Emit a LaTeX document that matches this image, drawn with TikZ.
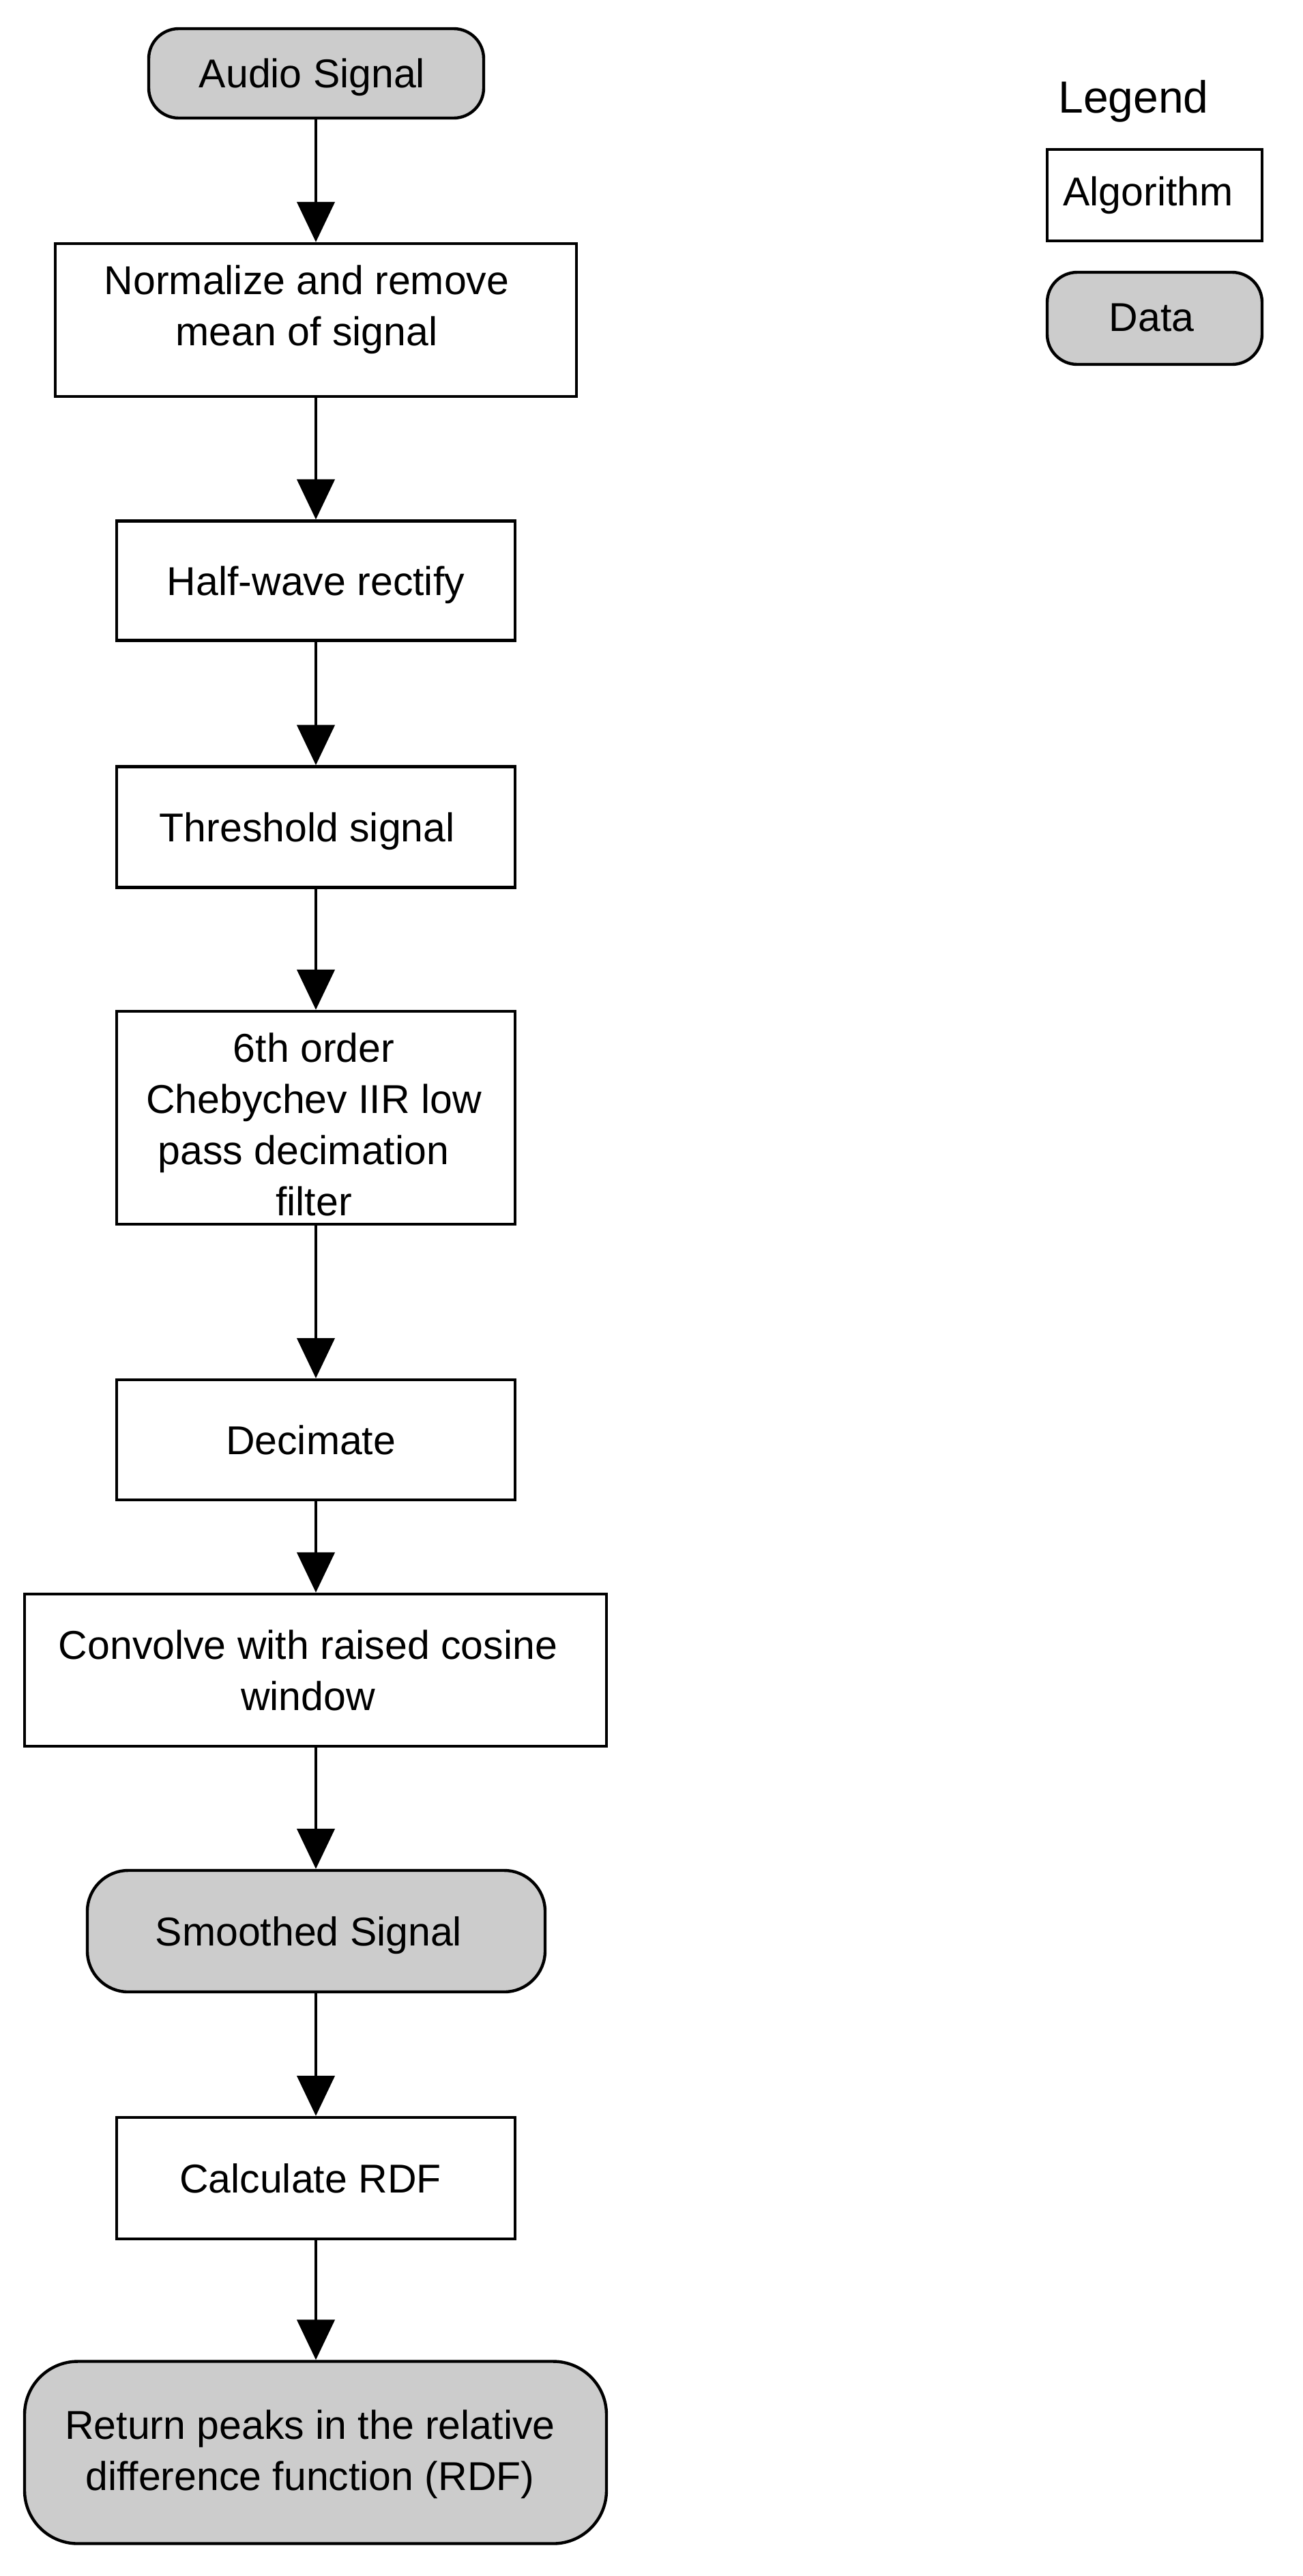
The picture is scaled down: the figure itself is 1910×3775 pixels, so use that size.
\documentclass[tikz,border=0pt]{standalone}
\usepackage{fontspec}
\setmainfont{Liberation Sans}
\usetikzlibrary{arrows.meta}
\definecolor{datagray}{HTML}{CCCCCC}
% #1 leftward shift, #2 upward shift, #3 lines
\newcommand\tx[3]{\raisebox{#2}[\height][\depth]{\kern-#1\kern-#1\begin{tabular}{@{}c@{}}#3\end{tabular}}}
\begin{document}
\begin{tikzpicture}[x=0.5pt,y=-0.5pt,
  algo/.style={draw, line width=2.2pt, fill=white, inner sep=0pt, font=\fontsize{29.5pt}{37.5pt}\selectfont},
  data/.style={algo, fill=datagray},
  sz/.style 2 args={minimum width=#1*0.5pt, minimum height=#2*0.5pt},
  flow/.style={line width=2.4pt, -{Triangle[length=29.5pt,width=27.5pt]}}]
\fill[white] (0,0) rectangle (1910,3775);
\useasboundingbox (0,0) rectangle (1910,3775);

\node[data, sz={491}{131}, rounded corners=22pt] (audio) at (463.5,107.5) {\tx{3pt}{-3pt}{Audio Signal}};
\node[algo, sz={764}{224}] (norm) at (463,469) {\tx{6.7pt}{7.5pt}{Normalize and remove\\mean of signal}};
\node[algo, sz={584}{175}] (half) at (463,851) {\tx{0pt}{-3pt}{Half-wave rectify}};
\node[algo, sz={584}{177}] (thr) at (463,1212) {\tx{6.4pt}{-3pt}{Threshold signal}};
\node[algo, sz={584}{312}] (cheb) at (463,1638) {\tx{1.5pt}{-8pt}{6th order\\Chebychev IIR low\\pass decimation\hspace*{15pt}\\filter}};
\node[algo, sz={584}{176}] (dec) at (463,2110) {\tx{3.7pt}{-3pt}{Decimate}};
\node[algo, sz={853}{223}] (conv) at (462.5,2447.5) {\tx{5.5pt}{-3pt}{Convolve with raised cosine\\window}};
\node[data, sz={671}{178}, rounded corners=30pt] (smooth) at (463.5,2830) {\tx{5.5pt}{-3pt}{Smoothed Signal}};
\node[algo, sz={584}{178}] (calc) at (463,3192) {\tx{4pt}{-3pt}{Calculate RDF}};
\node[data, sz={853}{267}, rounded corners=39pt] (ret) at (462.5,3594) {\tx{4pt}{-1.5pt}{Return peaks in the relative\\difference function (RDF)}};

\node[anchor=base west, inner sep=0pt, font=\fontsize{33pt}{40pt}\selectfont] (legend) at (1551,165) {Legend};
\node[algo, sz={315}{134}] (legalgo) at (1692.5,286) {\tx{4.7pt}{0pt}{Algorithm}};
\node[data, sz={315}{135}, rounded corners=22pt] (legdata) at (1692.5,466.5) {\tx{2.2pt}{-1.75pt}{Data}};

\draw[flow] (audio.south -| half.north) -- (norm.north -| half.north);
\draw[flow] (norm.south -| half.north) -- (half.north);
\draw[flow] (half.south) -- (thr.north);
\draw[flow] (thr.south) -- (cheb.north);
\draw[flow] (cheb.south) -- (dec.north);
\draw[flow] (dec.south) -- (conv.north -| dec.north);
\draw[flow] (conv.south -| dec.north) -- (smooth.north -| dec.north);
\draw[flow] (smooth.south -| dec.north) -- (calc.north);
\draw[flow] (calc.south) -- (ret.north -| calc.north);
\end{tikzpicture}
\end{document}
